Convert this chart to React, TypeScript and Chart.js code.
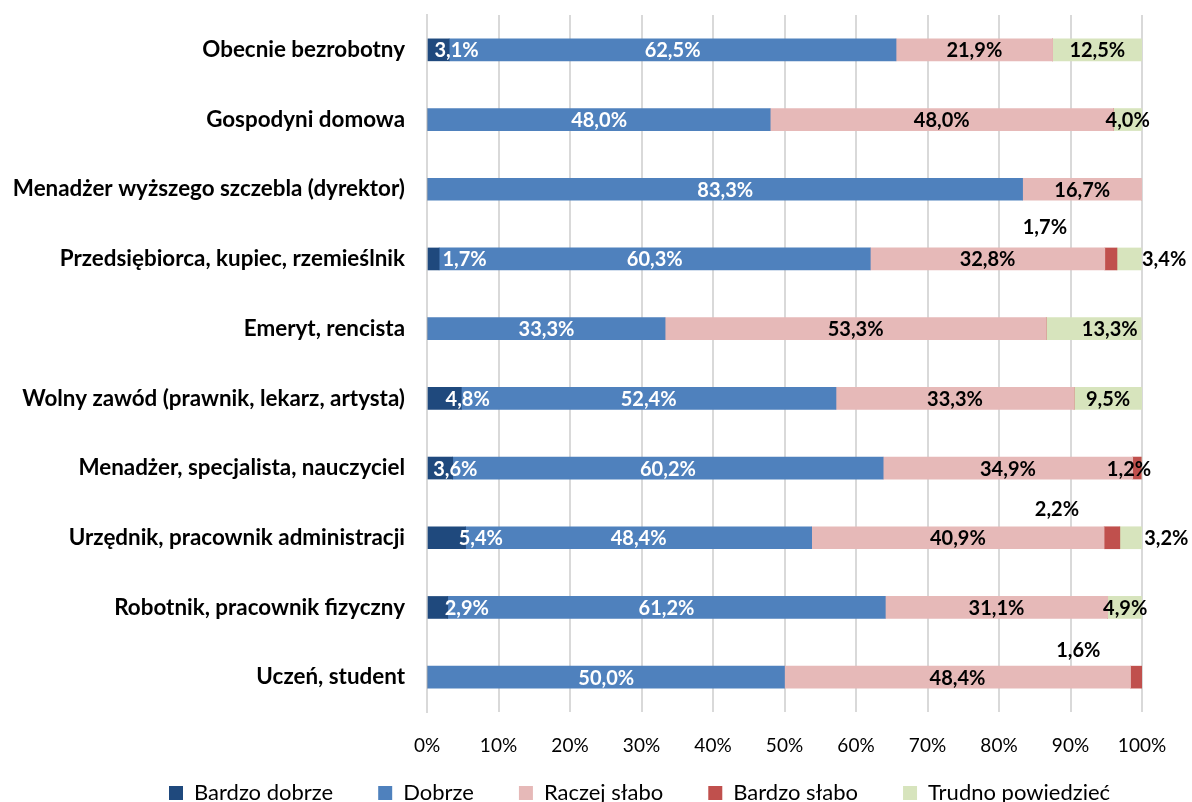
import React, { useEffect, useRef } from "react";
import { Chart, registerables } from "chart.js";

Chart.register(...registerables);

const categories = [
  "Obecnie bezrobotny",
  "Gospodyni domowa",
  "Menadżer wyższego szczebla (dyrektor)",
  "Przedsiębiorca, kupiec, rzemieślnik",
  "Emeryt, rencista",
  "Wolny zawód (prawnik, lekarz, artysta)",
  "Menadżer, specjalista, nauczyciel",
  "Urzędnik, pracownik administracji",
  "Robotnik, pracownik fizyczny",
  "Uczeń, student",
];

const seriesNames = ["Bardzo dobrze", "Dobrze", "Raczej słabo", "Bardzo słabo", "Trudno powiedzieć"];

const bardzoDobrze = [3.1, 0, 0, 1.7, 0, 4.8, 3.6, 5.4, 2.9, 0];
const dobrze = [62.5, 48.0, 83.3, 60.3, 33.3, 52.4, 60.2, 48.4, 61.2, 50.0];
const raczejSlabo = [21.9, 48.0, 16.7, 32.8, 53.3, 33.3, 34.9, 40.9, 31.1, 48.4];
const bardzoSlabo = [0, 0, 0, 1.7, 0, 0, 1.2, 2.2, 0, 1.6];
const trudnoPowiedziec = [12.5, 4.0, 0, 3.4, 13.3, 9.5, 0, 3.2, 4.9, 0];

const xTicks = [0, 10, 20, 30, 40, 50, 60, 70, 80, 90, 100];

const colors = ["#1F497D", "#4F81BD", "#E6B9B8", "#C0504D", "#D7E4BD"];
const labelColors = ["#FFFFFF", "#FFFFFF", "#000000", "#000000", "#000000"];

// label offsets (px) keyed "series-category"
const labelOffsets: Record<string, [number, number]> = {
  "0-0": [18, 0],
  "0-3": [31, 0],
  "0-5": [23, 0],
  "0-6": [15, 0],
  "0-7": [34, 0],
  "0-8": [29, 0],
  "3-3": [-66, -32],
  "3-6": [-8, 0],
  "3-7": [-55, -29],
  "3-9": [-58, -28],
  "4-3": [35, 0],
  "4-4": [16, 0],
  "4-7": [35, 0],
};

const LEGEND_START_X = 169;
const LEGEND_TEXT_Y = 793;

const fmt = (v: number) => v.toFixed(1).replace(".", ",") + "%";

const labelPlugin = {
  id: "segLabels",
  afterDatasetsDraw(chart: any) {
    const ctx = chart.ctx;
    ctx.save();
    ctx.font = "bold 20px Lato";
    ctx.textAlign = "center";
    ctx.textBaseline = "middle";
    chart.data.datasets.forEach((ds: any, di: number) => {
      const meta = chart.getDatasetMeta(di);
      meta.data.forEach((el: any, i: number) => {
        const v = ds.data[i];
        if (!v) return;
        const { x, base, y } = el.getProps(["x", "base", "y"], true);
        const off = labelOffsets[di + "-" + i] || [0, 0];
        ctx.fillStyle = labelColors[di];
        ctx.fillText(fmt(v), (x + base) / 2 + off[0], y + off[1] + 1);
      });
    });
    ctx.restore();
  },
};

const legendShift = {
  id: "legendShift",
  afterLayout(chart: any) {
    const lg = chart.legend;
    if (!lg || !lg.lineWidths) return;
    const pad = lg.options.labels.padding;
    const fs = lg.options.labels.font.size;
    const firstX = (lg.left + pad + lg.right - lg.lineWidths[0]) / 2;
    const dx = LEGEND_START_X - firstX;
    lg.left += dx;
    lg.right += dx;
    const textY = lg.top + pad + fs / 2;
    const dy = LEGEND_TEXT_Y - textY;
    lg.top += dy;
    lg.bottom += dy;
  },
};

export default function App() {
  const ref = useRef<HTMLCanvasElement>(null);
  useEffect(() => {
    if (!ref.current) return;
    const allSeries = [bardzoDobrze, dobrze, raczejSlabo, bardzoSlabo, trudnoPowiedziec];
    const chart = new Chart(ref.current, {
      type: "bar",
      data: {
        labels: categories,
        datasets: allSeries.map((d, i) => ({
          label: seriesNames[i],
          data: d,
          backgroundColor: colors[i],
          borderWidth: 0,
          barThickness: 22,
        })),
      },
      options: {
        indexAxis: "y",
        animation: false,
        responsive: false,
        maintainAspectRatio: false,
        layout: { padding: { top: 15, right: 50, left: 0, bottom: 0 } },
        scales: {
          x: {
            stacked: true,
            min: 0,
            max: 100,
            afterBuildTicks: (scale: any) => {
              scale.ticks = xTicks.map((v) => ({ value: v }));
            },
            afterFit: (scale: any) => {
              scale.height = 62;
              scale.paddingLeft = 0;
              scale.paddingRight = 0;
            },
            ticks: {
              padding: 22,
              color: "#000000",
              font: { family: "Lato", size: 19 },
              callback: (v: any) => v + "%",
            },
            grid: { color: "#D9D9D9", lineWidth: 2, drawTicks: false },
            border: { display: false },
          },
          y: {
            stacked: true,
            afterFit: (scale: any) => {
              scale.width = 427;
              scale.paddingTop = 0;
              scale.paddingBottom = 0;
            },
            ticks: {
              padding: 22,
              color: "#000000",
              font: { family: "Lato", size: 22.4, weight: "bold" },
            },
            grid: { display: false, drawTicks: false },
            border: { display: true, color: "#D9D9D9", width: 2 },
          },
        },
        plugins: {
          legend: {
            position: "bottom",
            labels: {
              color: "#000000",
              font: { family: "Lato", size: 22 },
              boxWidth: 14,
              boxHeight: 14,
              padding: 45,
            },
          },
          tooltip: { enabled: false },
        },
      },
      plugins: [labelPlugin, legendShift],
    });
    return () => chart.destroy();
  }, []);
  return (
    <div style={{ position: "fixed", left: 0, top: 0, width: 1192, height: 802, overflow: "hidden", background: "#fff" }}>
      <canvas ref={ref} width={1192} height={851} style={{ width: 1192, height: 851, display: "block" }} />
    </div>
  );
}
